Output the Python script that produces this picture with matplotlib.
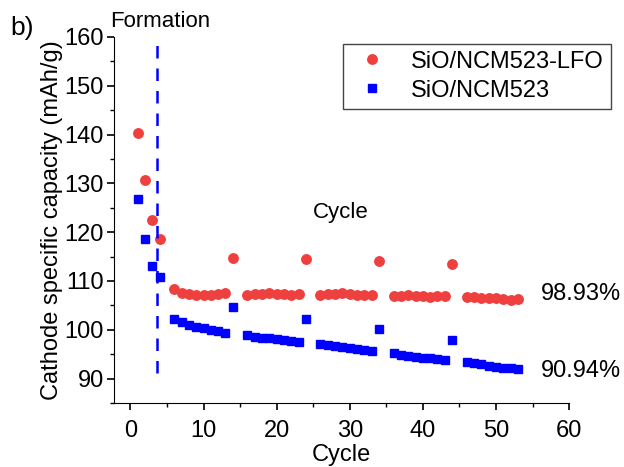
import matplotlib.pyplot as plt

plt.rcParams['font.family'] = ['Liberation Sans', 'DejaVu Sans']

# cycles (every 10th cycle after 14 is a rate check, next cycle not recorded)
cycles = [1, 2, 3, 4,
          6, 7, 8, 9, 10, 11, 12, 13, 14,
          16, 17, 18, 19, 20, 21, 22, 23, 24,
          26, 27, 28, 29, 30, 31, 32, 33, 34,
          36, 37, 38, 39, 40, 41, 42, 43, 44,
          46, 47, 48, 49, 50, 51, 52, 53]

lfo = [140.4, 130.6, 122.4, 118.5,
       108.3, 107.6, 107.3, 107.2, 107.2, 107.2, 107.3, 107.6, 114.8,
       107.1, 107.3, 107.4, 107.5, 107.3, 107.3, 107.2, 107.3, 114.5,
       107.2, 107.3, 107.3, 107.5, 107.4, 107.2, 107.1, 107.2, 114.1,
       107.0, 107.0, 107.1, 107.0, 106.9, 106.8, 106.9, 106.9, 113.5,
       106.7, 106.7, 106.6, 106.6, 106.5, 106.3, 106.1, 106.3]

ref = [126.8, 118.5, 113.1, 110.9,
       102.3, 101.6, 101.0, 100.6, 100.3, 100.0, 99.7, 99.4, 104.7,
       98.9, 98.6, 98.4, 98.3, 98.1, 98.0, 97.8, 97.6, 102.2,
       97.1, 96.8, 96.6, 96.4, 96.2, 96.0, 95.8, 95.6, 100.1,
       95.2, 94.9, 94.7, 94.5, 94.3, 94.2, 94.0, 93.8, 97.9,
       93.4, 93.1, 92.9, 92.6, 92.4, 92.2, 92.1, 91.9]

fig = plt.figure(figsize=(6.24, 4.67), dpi=100)
ax = fig.add_axes([0.182, 0.137, 0.730, 0.784])

ax.plot(cycles, lfo, 'o', color='#ef4040', markersize=6.8, label='SiO/NCM523-LFO')
ax.plot(cycles, ref, 's', color='#0000ff', markersize=6, label='SiO/NCM523')
ax.plot([3.6, 3.6], [91.2, 158.3], '--', color='#0000ff', lw=1.8, dashes=(5, 4))

ax.set_xlim(-2.3, 60)
ax.set_ylim(85, 160)
ax.set_xticks(range(0, 61, 10))
ax.set_xticks(range(5, 60, 10), minor=True)
ax.set_yticks(range(90, 161, 10))
ax.set_yticks(range(85, 160, 10), minor=True)
ax.spines['top'].set_visible(False)
ax.spines['right'].set_visible(False)
ax.tick_params(which='major', direction='out', length=5, width=1.2, labelsize=17, pad=2)
ax.tick_params(axis='x', which='major', pad=7)
ax.tick_params(which='minor', direction='out', length=3, width=1.0)
ax.set_xlabel('Cycle', fontsize=17, labelpad=2)
ax.set_ylabel('Cathode specific capacity (mAh/g)', fontsize=17, labelpad=1)

ax.text(25, 124.1, 'Cycle', fontsize=16, va='center')
ax.text(56.2, 107.4, '98.93%', fontsize=17, ha='left', va='center', clip_on=False)
ax.text(56.2, 91.6, '90.94%', fontsize=17, ha='left', va='center', clip_on=False)
fig.text(0.176, 0.953, 'Formation', fontsize=16, va='center')
fig.text(0.017, 0.94, 'b)', fontsize=19, va='center')

leg = ax.legend(loc='upper right', bbox_to_anchor=(1.118, 1.014), fontsize=17,
                fancybox=False, edgecolor='#444444', framealpha=1,
                handletextpad=0.7, borderpad=0.3, handlelength=1.9,
                labelspacing=0.3)
leg.get_frame().set_linewidth(1.0)

fig.savefig('out.png', dpi=100)
